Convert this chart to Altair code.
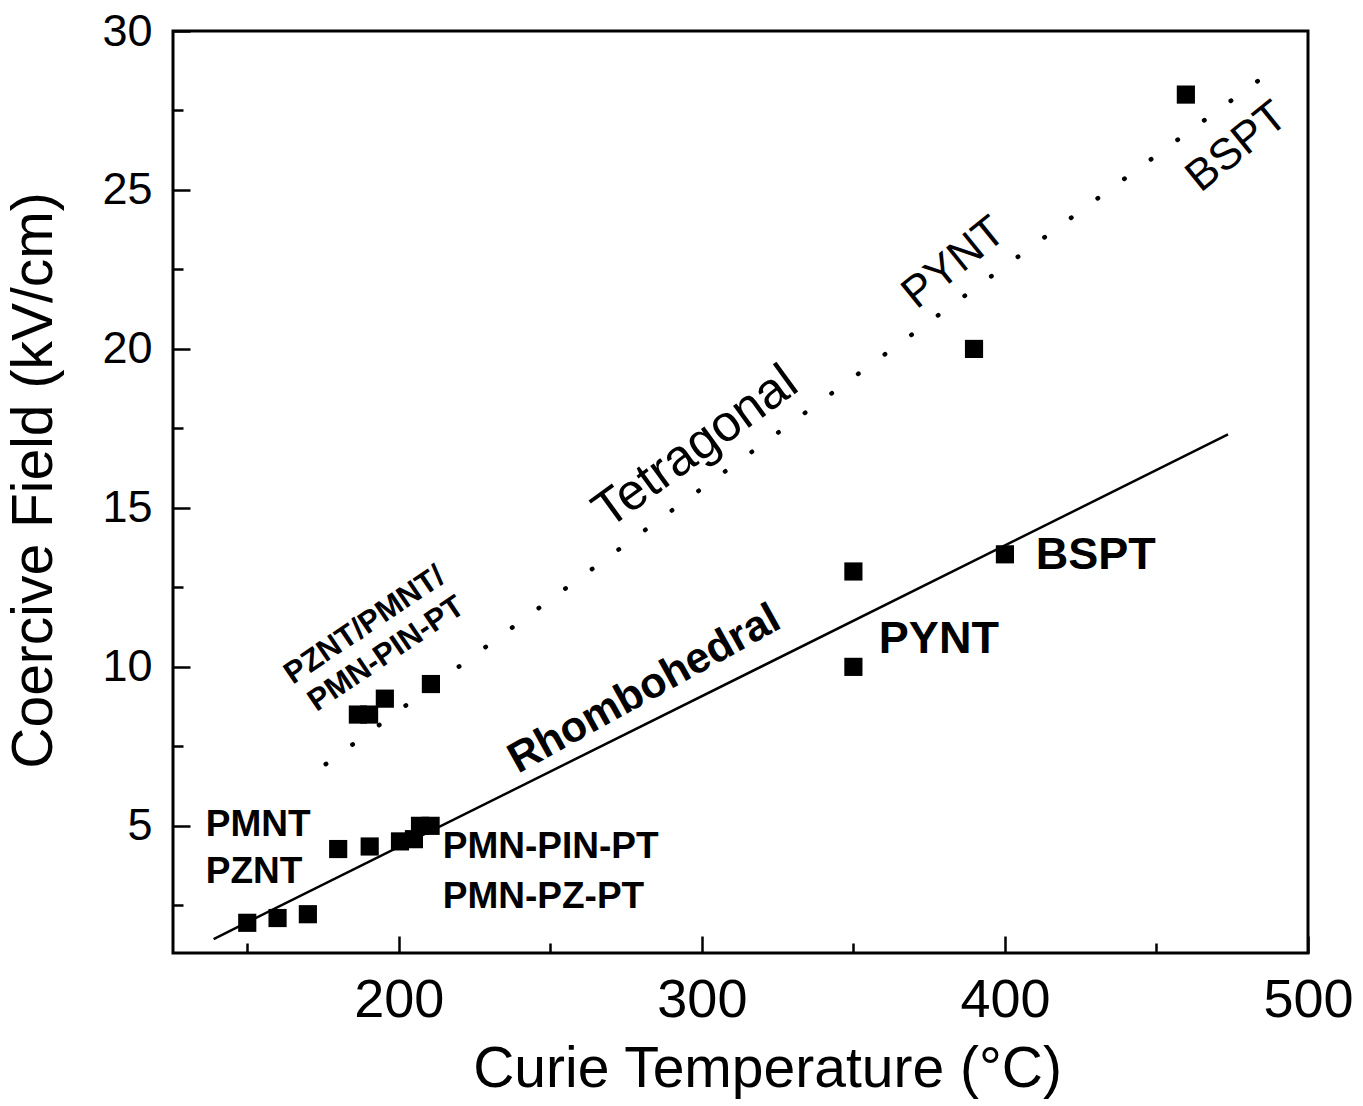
import altair as alt
import pandas as pd

# ---------------- data ----------------
curie_T = [150, 160, 170, 180, 190.4, 200.4, 205, 207, 210.5,
           186.5, 190.2, 195.4, 210.6, 350, 350, 400, 389.8, 459.7]
coercive = [1.95, 2.1, 2.22, 4.27, 4.35, 4.51, 4.58, 5.0, 5.0,
            8.5, 8.5, 9.0, 9.46, 13.0, 10.0, 13.54, 20.0, 28.0]

rhombo_T = [138.9, 473.6]
rhombo_E = [1.44, 17.31]
tetra_T = [175.9, 483.9]
tetra_E = [6.94, 28.46]

x_major = [200, 300, 400, 500]
x_minor = [150, 250, 350, 450]
y_major = [5, 10, 15, 20, 25, 30]
y_minor = [2.5, 7.5, 12.5, 17.5, 22.5, 27.5]

# bold horizontal labels (small)
lab_small = ["PMNT", "PZNT", "PMN-PIN-PT", "PMN-PZ-PT"]
lab_small_T = [136.3, 136.3, 214.5, 214.5]
lab_small_E = [4.69, 3.2, 3.99, 2.42]
# bold horizontal labels (large)
lab_big = ["PYNT", "BSPT"]
lab_big_T = [358.4, 410.2]
lab_big_E = [10.45, 13.09]
# rotated labels
rh_label, rh_T, rh_E = ["Rhombohedral"], [281.0], [9.3]
te_label, te_T, te_E = ["Tetragonal"], [298.0], [16.9]
up_label = ["PYNT", "BSPT"]
up_T = [383.2, 476.6]
up_E = [22.7, 26.35]
pz_label = ["PZNT/PMNT/", "PMN-PIN-PT"]
pz_T = [188.8, 195.9]
pz_E = [11.3, 10.4]

FONT = "Liberation Sans, Arial, Helvetica, sans-serif"

xscale = alt.Scale(domain=[125.5, 500], nice=False, zero=False)
yscale = alt.Scale(domain=[1, 30], nice=False, zero=False)

pts = pd.DataFrame({"T": curie_T, "E": coercive})

squares = alt.Chart(pts).mark_square(size=330, filled=True, opacity=1, color="black").encode(
    x=alt.X("T:Q", scale=xscale,
            axis=alt.Axis(orient="bottom", values=x_major, tickSize=17, offset=-17, domain=False,
                          grid=False, labelFlush=False, labelFont=FONT, labelFontSize=54,
                          labelPadding=20, labelColor="black", tickColor="black", tickWidth=2.5,
                          title="Curie Temperature (°C)", titleFont=FONT, titleFontSize=57,
                          titleFontWeight="normal", titlePadding=14, titleColor="black",
                          titleX=594)),
    y=alt.Y("E:Q", scale=yscale,
            axis=alt.Axis(orient="left", values=y_major, tickSize=17, offset=-17, domain=False,
                          grid=False, labelFlush=False, labelFont=FONT, labelFontSize=45,
                          labelPadding=21, labelColor="black", tickColor="black", tickWidth=2.5,
                          title="Coercive Field (kV/cm)", titleFont=FONT, titleFontSize=57,
                          titleFontWeight="normal", titlePadding=38, titleColor="black",
                          titleY=449)),
)

rh = pd.DataFrame({"T": rhombo_T, "E": rhombo_E})
rline = alt.Chart(rh).mark_line(color="black", strokeWidth=2.5).encode(
    x=alt.X("T:Q", scale=xscale,
            axis=alt.Axis(orient="bottom", values=x_minor, tickSize=10, offset=-10, domain=False,
                          grid=False, labels=False, tickColor="black", tickWidth=2.5, title="")),
    y=alt.Y("E:Q", scale=yscale,
            axis=alt.Axis(orient="left", values=y_minor, tickSize=10, offset=-10, domain=False,
                          grid=False, labels=False, tickColor="black", tickWidth=2.5, title="")),
)

te = pd.DataFrame({"T": tetra_T, "E": tetra_E})
tline = alt.Chart(te).mark_line(color="black", strokeWidth=4.5, strokeDash=[0.5, 32.5],
                                strokeCap="round").encode(
    x=alt.X("T:Q", scale=xscale, axis=None),
    y=alt.Y("E:Q", scale=yscale, axis=None),
)


def txt(labels, xs, ys, size, weight, angle=0, align="left", baseline="alphabetic"):
    df = pd.DataFrame({"T": xs, "E": ys, "label": labels})
    return alt.Chart(df).mark_text(fontSize=size, fontWeight=weight, angle=angle, align=align,
                                   baseline=baseline, font=FONT, color="black").encode(
        x=alt.X("T:Q", scale=xscale, axis=None),
        y=alt.Y("E:Q", scale=yscale, axis=None),
        text="label:N",
    )


t1 = txt(lab_small, lab_small_T, lab_small_E, 37, "bold")
t2 = txt(lab_big, lab_big_T, lab_big_E, 45, "bold")
t3 = txt(rh_label, rh_T, rh_E, 43, "bold", angle=331, align="center", baseline="middle")
t4 = txt(te_label, te_T, te_E, 51, "normal", angle=324, align="center", baseline="middle")
t5 = txt(up_label, up_T, up_E, 44, "normal", angle=321, align="center", baseline="middle")
t6 = txt(pz_label, pz_T, pz_E, 31, "bold", angle=326, align="center", baseline="middle")

chart = alt.layer(squares, rline, tline, t1, t2, t3, t4, t5, t6).resolve_axis(
    x="independent", y="independent"
).properties(
    width=1135, height=922,
    autosize=alt.AutoSizeParams(type="none"),
    padding={"left": 173, "top": 31, "right": 55, "bottom": 153},
    background="white",
).configure_view(stroke="black", strokeWidth=3)

chart.save("out.html", embed_options={"renderer": "svg", "actions": False})
